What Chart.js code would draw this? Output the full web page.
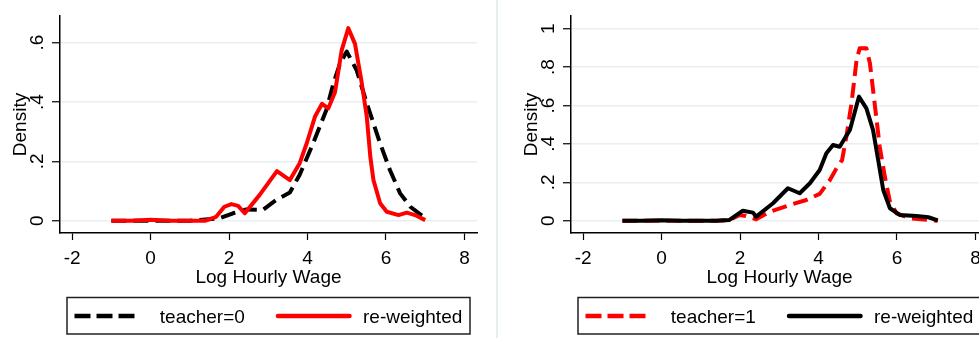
<!DOCTYPE html>
<html>
<head>
<meta charset="utf-8">
<script src="https://cdn.jsdelivr.net/npm/chart.js@4.4.0/dist/chart.umd.min.js"></script>
<style>
html, body { margin: 0; padding: 0; background: #fff; overflow: hidden; width: 979px; height: 338px; }
#left { position: absolute; left: 0; top: 0; width: 490px; height: 338px; }
#sep { position: absolute; left: 496px; top: 0; width: 2px; height: 338px; background: #e6eef1; }
#right { position: absolute; left: 490px; top: 0; width: 500px; height: 338px; }
</style>
</head>
<body>
<div id="left"><canvas id="c1" width="490" height="338"></canvas></div>
<div id="sep"></div>
<div id="right"><canvas id="c2" width="500" height="338"></canvas></div>
<script>
// Оси
const xTicks = [-2, 0, 2, 4, 6, 8];
const yTicksLeft = [0, 0.2, 0.4, 0.6];
const yLabelsLeft = ['0', '.2', '.4', '.6'];
const yTicksRight = [0, 0.2, 0.4, 0.6, 0.8, 1];
const yLabelsRight = ['0', '.2', '.4', '.6', '.8', '1'];

// Левая панель: teacher=0
const t0X = [-1, -0.5, 0, 0.5, 1, 1.25, 1.76, 2.1, 2.44, 2.86, 3.2, 3.55, 3.8, 4.14, 4.48, 4.66, 4.83, 5.0, 5.25, 5.51, 5.85, 6.1, 6.36, 6.62, 6.96, 7.0];
const t0Y = [0, 0, 0, 0, 0, 0.002, 0.008, 0.025, 0.038, 0.036, 0.07, 0.095, 0.155, 0.26, 0.373, 0.463, 0.531, 0.57, 0.508, 0.396, 0.261, 0.171, 0.092, 0.047, 0.013, 0.01];

// Левая панель: re-weighted
const rw0X = [-1, -0.5, 0, 0.5, 1, 1.4, 1.67, 1.88, 2.06, 2.23, 2.4, 2.78, 3.22, 3.55, 3.8, 3.98, 4.19, 4.37, 4.53, 4.7, 4.87, 5.04, 5.21, 5.38, 5.51, 5.6, 5.68, 5.85, 6.02, 6.32, 6.53, 6.74, 7.0];
const rw0Y = [0, 0, 0.003, 0, 0, 0, 0.013, 0.047, 0.056, 0.05, 0.025, 0.087, 0.167, 0.137, 0.194, 0.261, 0.351, 0.394, 0.379, 0.433, 0.574, 0.649, 0.596, 0.466, 0.351, 0.216, 0.137, 0.059, 0.03, 0.019, 0.027, 0.019, 0.002];

// Правая панель: teacher=1
const t1X = [-1, -0.5, 0, 0.5, 1, 1.4, 1.73, 1.99, 2.15, 2.41, 2.76, 3.27, 3.69, 4.03, 4.29, 4.45, 4.6, 4.71, 4.84, 4.97, 5.05, 5.22, 5.31, 5.43, 5.56, 5.69, 5.82, 5.99, 6.33, 7.04];
const t1Y = [0, 0, 0, 0, 0, 0, 0.004, 0.03, 0.025, 0.007, 0.047, 0.082, 0.108, 0.14, 0.212, 0.27, 0.316, 0.438, 0.611, 0.837, 0.898, 0.898, 0.82, 0.611, 0.385, 0.229, 0.099, 0.038, 0.012, 0];

// Правая панель: re-weighted
const rw1X = [-1, -0.5, 0, 0.5, 1, 1.4, 1.73, 2.07, 2.33, 2.41, 2.84, 3.22, 3.52, 3.78, 4.03, 4.2, 4.37, 4.54, 4.67, 4.8, 5.03, 5.22, 5.39, 5.52, 5.65, 5.82, 6.07, 6.5, 6.8, 7.04];
const rw1Y = [0, 0, 0.003, 0, 0, 0, 0.004, 0.052, 0.042, 0.021, 0.091, 0.169, 0.143, 0.195, 0.264, 0.351, 0.394, 0.385, 0.429, 0.472, 0.646, 0.585, 0.472, 0.316, 0.16, 0.065, 0.03, 0.025, 0.018, 0.002];

const FONT = '19px "Liberation Sans", Arial, sans-serif';
const GRID = '#e8eff2';
const DASH = [15, 7];

function pts(xs, ys) {
    return xs.map((x, i) => ({ x: x, y: ys[i] }));
}

// Подписи, заголовки осей и легенда в стиле Stata
const stataText = {
    id: 'stataText',
    afterDraw(chart) {
        const o = chart.options.plugins.stataText;
        const ctx = chart.ctx;
        const a = chart.chartArea;
        const xs = chart.scales.x, ys = chart.scales.y;
        ctx.save();
        ctx.fillStyle = '#000';
        ctx.font = FONT;

        // X ticks
        ctx.textAlign = 'center';
        ctx.textBaseline = 'alphabetic';
        xTicks.forEach(v => ctx.fillText(String(v), xs.getPixelForValue(v), 263.5));
        ctx.fillText('Log Hourly Wage', (a.left + a.right) / 2, 283);

        // Y ticks (повернутые)
        o.yTicks.forEach((v, i) => {
            ctx.save();
            ctx.translate(a.left - 17, ys.getPixelForValue(v));
            ctx.rotate(-Math.PI / 2);
            ctx.fillText(o.yLabels[i], 0, 0);
            ctx.restore();
        });
        ctx.save();
        ctx.translate(a.left - 34, (a.top + a.bottom) / 2);
        ctx.rotate(-Math.PI / 2);
        ctx.fillText('Density', 0, 0);
        ctx.restore();

        // Легенда
        const cx = (a.left + a.right) / 2;
        const bx = cx - 201.5, by = 297.5;
        ctx.strokeStyle = '#222';
        ctx.lineWidth = 1.5;
        ctx.strokeRect(bx, by, 403, 36.5);
        const slots = [[7.5, 71.5, 92.8], [211, 282.5, 296]];
        chart.data.datasets.forEach((ds, i) => {
            const s = slots[i];
            ctx.save();
            ctx.strokeStyle = ds.borderColor;
            ctx.lineWidth = 4.5;
            ctx.lineCap = ds.borderDash.length ? 'butt' : 'round';
            ctx.setLineDash(ds.borderDash.length ? [16, 6] : []);
            ctx.beginPath();
            ctx.moveTo(bx + s[0], 316);
            ctx.lineTo(bx + s[1], 316);
            ctx.stroke();
            ctx.restore();
            ctx.textAlign = 'left';
            ctx.fillText(ds.label, bx + s[2], 323.3);
        });
        ctx.restore();
    }
};

function makeChart(id, left, right, yMin, yMax, yTicks, yLabels, datasets) {
    const canvas = document.getElementById(id);
    return new Chart(canvas.getContext('2d'), {
        type: 'line',
        data: { datasets: datasets },
        options: {
            responsive: false,
            animation: false,
            layout: { padding: { left: 0, right: canvas.width - right, top: 16, bottom: 0 } },
            plugins: {
                legend: { display: false },
                tooltip: { enabled: false },
                stataText: { yTicks: yTicks, yLabels: yLabels }
            },
            elements: { point: { radius: 0 }, line: { tension: 0, borderJoinStyle: 'round' } },
            scales: {
                x: {
                    type: 'linear',
                    min: -2.31,
                    max: 8.32,
                    afterBuildTicks: s => { s.ticks = xTicks.map(v => ({ value: v })); },
                    afterFit: s => { s.height = 105; },
                    ticks: { display: false },
                    grid: { drawOnChartArea: false, drawTicks: true, tickLength: 7, tickColor: '#000', tickWidth: 1.2 },
                    border: { display: true, color: '#000', width: 1.5 }
                },
                y: {
                    type: 'linear',
                    min: yMin,
                    max: yMax,
                    afterBuildTicks: s => { s.ticks = yTicks.map(v => ({ value: v })); },
                    afterFit: s => { s.width = left; },
                    ticks: { display: false },
                    grid: { color: GRID, lineWidth: 1.5, drawTicks: true, tickLength: 8, tickColor: '#000', tickWidth: 1.2 },
                    border: { display: true, color: '#000', width: 1.5 }
                }
            }
        },
        plugins: [stataText]
    });
}

makeChart('c1', 60, 477, -0.0415, 0.69, yTicksLeft, yLabelsLeft, [
    { label: 'teacher=0', data: pts(t0X, t0Y), borderColor: '#000', borderWidth: 4, borderDash: DASH, order: 2, fill: false },
    { label: 're-weighted', data: pts(rw0X, rw0Y), borderColor: '#ff0000', borderWidth: 4, borderDash: [], order: 1, fill: false }
]);

makeChart('c2', 81, 498, -0.064, 1.066, yTicksRight, yLabelsRight, [
    { label: 'teacher=1', data: pts(t1X, t1Y), borderColor: '#ff0000', borderWidth: 4, borderDash: DASH, order: 2, fill: false },
    { label: 're-weighted', data: pts(rw1X, rw1Y), borderColor: '#000', borderWidth: 4, borderDash: [], order: 1, fill: false }
]);
</script>
</body>
</html>
